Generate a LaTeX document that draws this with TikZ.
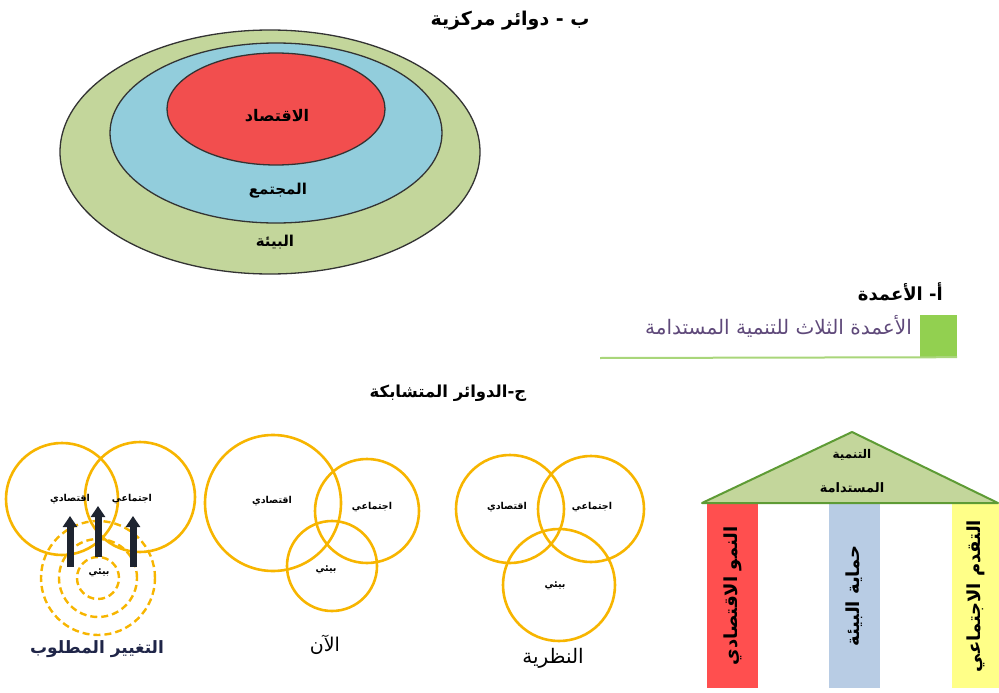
\documentclass[tikz,border=0pt]{standalone}
\usepackage{fontspec}
\usetikzlibrary{arrows.meta,shapes.geometric}
\TeXXeTstate=1
\newfontfamily\arabicfont[Script=Arabic]{DejaVu Sans}
\newcommand{\ar}[1]{\arabicfont\beginR #1\endR}
\newcommand{\fs}[1]{\fontsize{#1}{#1}\selectfont}
\definecolor{outerg}{HTML}{C3D69B}
\definecolor{midb}{HTML}{92CDDC}
\definecolor{innr}{HTML}{F24E4E}
\definecolor{ringc}{HTML}{F7B500}
\definecolor{roofg}{HTML}{C3D69B}
\definecolor{roofb}{HTML}{5E9B35}
\definecolor{headp}{HTML}{5F497A}
\definecolor{sqg}{HTML}{92D050}
\definecolor{lineg}{HTML}{A9D67A}
\definecolor{pred}{HTML}{FF4F4F}
\definecolor{pblue}{HTML}{B8CCE4}
\definecolor{pyel}{HTML}{FFFF88}
\definecolor{arrowc}{HTML}{1E2430}
\definecolor{captc}{HTML}{1F2548}
\tikzset{
  ell/.style={ellipse, draw=black!80, line width=1.3pt, inner sep=0pt},
  solidring/.style={circle, draw=ringc, line width=2.6pt, inner sep=0pt, minimum size=#1},
  dashring/.style={circle, draw=ringc, line width=2.4pt, dash pattern=on 7pt off 4pt, inner sep=0pt, minimum size=#1},
  lbl/.style={font=\bfseries\fs{9.5}, inner sep=0pt},
  captxt/.style={font=\fs{19}, text=captc, inner sep=0pt},
  ttl/.style={font=\bfseries\fs{16.5}, inner sep=0pt},
  pillar/.style={draw=none, inner sep=0pt},
  ptext/.style={font=\bfseries\fs{18}, inner sep=0pt, rotate=90},
  uparrow/.style={draw=arrowc, line width=7pt, -{Triangle[width=14pt,length=11pt]}}
}
\begin{document}
\begin{tikzpicture}[x=1pt,y=-1pt]
\useasboundingbox (0,0) rectangle (999,693);

% ---- b: concentric
\node[ttl, font=\bfseries\fs{19}] (tb) at (510,21) {\ar{ب - دوائر مركزية}};
\node[ell, fill=outerg, minimum width=420pt, minimum height=244pt] (e1) at (270,152) {};
\node[ell, fill=midb, minimum width=332pt, minimum height=180pt] (e2) at (276,133) {};
\node[ell, fill=innr, minimum width=218pt, minimum height=112pt] (e3) at (276,109) {};
\node[lbl, font=\bfseries\fs{16}] (t3) at (277,116) {\ar{الاقتصاد}};
\node[lbl, font=\bfseries\fs{15}] (t2) at (278,191) {\ar{المجتمع}};
\node[lbl, font=\bfseries\fs{15}] (t1) at (275,242) {\ar{البيئة}};

% ---- a: header
\node[ttl, font=\bfseries\fs{18}, anchor=east] (ta) at (943,292) {\ar{أ- الأعمدة}};
\node[fill=sqg, minimum width=37pt, minimum height=42pt, inner sep=0pt] (sq) at (938.5,336) {};
\node[font=\fs{20}, text=headp, inner sep=0pt, anchor=east] (th) at (912,326) {\ar{الأعمدة الثلاث للتنمية المستدامة}};
\coordinate (l1) at (600,358);
\draw[lineg, line width=2pt] (l1) -- (sq.south east);

% ---- c: title
\node[ttl] (tc) at (448,393) {\ar{ج-الدوائر المتشابكة}};

% ---- left diagram
\node[dashring=114pt] (d1) at (98,578) {};
\node[dashring=78pt] (d2) at (98,578) {};
\node[dashring=42pt] (d3) at (98,578) {};
\node[solidring=112pt] (c1) at (62,499) {};
\node[solidring=110pt] (c2) at (140,497) {};
\coordinate (a1s) at (70,567); \coordinate (a1e) at (70,516);
\coordinate (a2s) at (98,557); \coordinate (a2e) at (98,506);
\coordinate (a3s) at (133,567); \coordinate (a3e) at (133,516);
\draw[uparrow] (a1s) -- (a1e);
\draw[uparrow] (a2s) -- (a2e);
\draw[uparrow] (a3s) -- (a3e);
\node[lbl] (lx1) at (70,499) {\ar{اقتصادي}};
\node[lbl] (lx2) at (132,499) {\ar{اجتماعي}};
\node[lbl] (lx3) at (99,573) {\ar{بيئي}};
\node[captxt, font=\bfseries\fs{17}] (cl) at (97,649) {\ar{التغيير المطلوب}};

% ---- middle diagram
\node[solidring=136pt] (m1) at (273,503) {};
\node[solidring=104pt] (m2) at (367,511) {};
\node[solidring=90pt] (m3) at (332,566) {};
\node[lbl] (mx1) at (272,501) {\ar{اقتصادي}};
\node[lbl] (mx2) at (372,507) {\ar{اجتماعي}};
\node[lbl] (mx3) at (326,570) {\ar{بيئي}};
\node[captxt, text=black] (cm) at (325,645) {\ar{الآن}};

% ---- right diagram
\node[solidring=108pt] (r1) at (510,509) {};
\node[solidring=106pt] (r2) at (591,509) {};
\node[solidring=112pt] (r3) at (559,585) {};
\node[lbl] (rx1) at (507,507) {\ar{اقتصادي}};
\node[lbl] (rx2) at (592,507) {\ar{اجتماعي}};
\node[lbl] (rx3) at (555,586) {\ar{بيئي}};
\node[captxt, text=black, font=\fs{20}] (cr) at (553,658) {\ar{النظرية}};

% ---- pillars
\node[pillar, fill=pred, minimum width=51pt, minimum height=184pt] (p1) at (732.5,596) {};
\node[pillar, fill=pblue, minimum width=51pt, minimum height=184pt] (p2) at (854.5,596) {};
\node[pillar, fill=pyel, minimum width=47pt, minimum height=184pt] (p3) at (975.5,596) {};
\coordinate (rA) at (852,432);
\coordinate (rL) at (702,503);
\coordinate (rR) at (998,503);
\draw[fill=roofg, draw=roofb, line width=2pt, line join=round] (rA) -- (rL) -- (rR) -- cycle;
\node[lbl, font=\bfseries\fs{12}] (rt1) at (852,455) {\ar{التنمية}};
\node[lbl, font=\bfseries\fs{13}] (rt2) at (852,488) {\ar{المستدامة}};
\node[ptext] (pt1) at (p1) {\ar{النمو الاقتصادي}};
\node[ptext] (pt2) at (p2) {\ar{حماية البيئة}};
\node[ptext] (pt3) at (p3) {\ar{التقدم الاجتماعي}};
\end{tikzpicture}
\end{document}
